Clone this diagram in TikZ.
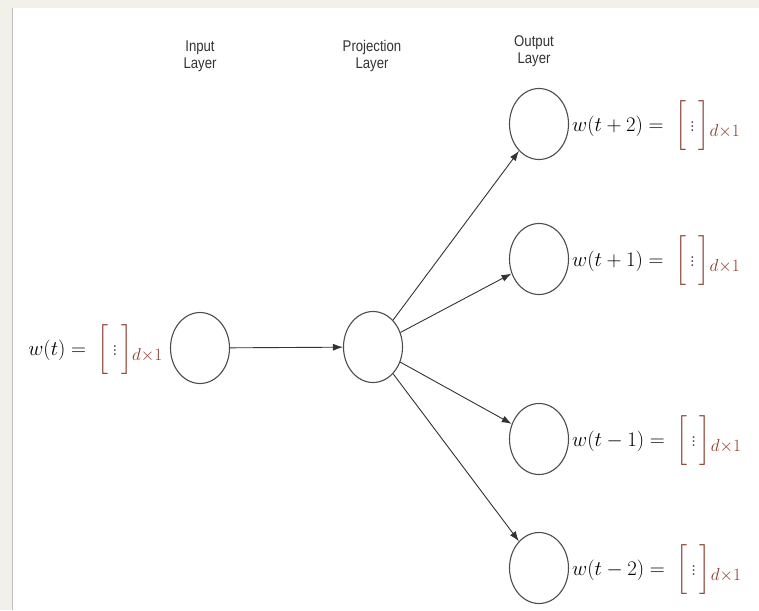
\documentclass[tikz,border=0pt]{standalone}
\usepackage{fontspec}
\usepackage{amsmath}
\newfontfamily\labelfont{Liberation Sans}[FakeStretch=0.85]
\usetikzlibrary{arrows.meta,shapes.geometric}
\definecolor{bgbeige}{HTML}{F1F0E9}
\definecolor{brk}{HTML}{8A3B2C}
\definecolor{edge}{HTML}{333333}
\newcommand{\vecbox}{\;\textcolor{brk}{\bigg[\,\textcolor{black!75}{\vdots}\,\bigg]}_{\mbox{\fontsize{18.5}{19}\selectfont\color{brk}$d{\times}1$}}}
\begin{document}
\begin{tikzpicture}[x=1pt,y=-1pt,
  neuron/.style={draw=black!70,line width=1.1pt,ellipse,minimum width=59pt,minimum height=71pt,inner sep=0pt},
  layertxt/.style={font=\fontsize{15.5}{17}\selectfont\labelfont,align=center,text=black!80},
  eqtxt/.style={font=\fontsize{22.5}{25}\selectfont,inner sep=0pt},
  conn/.style={draw=edge,line width=0.9pt,-{Latex[length=10pt,width=7pt]}}]
\fill[bgbeige] (0,0) rectangle (759,610);
\fill[white] (12,8) rectangle (759,610);
\draw[black!25,line width=0.8pt] (12,8) -- (12,610);
\path[use as bounding box] (0,0) rectangle (759,610);

\node[layertxt] (lin) at (200,56) {Input\\Layer};
\node[layertxt] (lproj) at (372,56) {Projection\\Layer};
\node[layertxt] (lout) at (534,51) {Output\\Layer};

\node[neuron] (in) at (200,348) {};
\node[neuron] (proj) at (373,347) {};
\node[neuron] (o1) at (539,124) {};
\node[neuron] (o2) at (539,259) {};
\node[neuron] (o3) at (539,439) {};
\node[neuron] (o4) at (539,568) {};

\node[eqtxt,anchor=east] (ein) at (163,350) {$w(t) = \vecbox$};
\node[eqtxt,anchor=west] (e1) at (572,126) {$w(t+2) = \vecbox$};
\node[eqtxt,anchor=west] (e2) at (572,261) {$w(t+1) = \vecbox$};
\node[eqtxt,anchor=west] (e3) at (572,441) {$w(t-1) = \vecbox$};
\node[eqtxt,anchor=west] (e4) at (572,570) {$w(t-2) = \vecbox$};

\draw[conn] (in) -- (proj);
\draw[conn] (proj) -- (o1);
\draw[conn] (proj) -- (o2);
\draw[conn] (proj) -- (o3);
\draw[conn] (proj) -- (o4);
\end{tikzpicture}
\end{document}
